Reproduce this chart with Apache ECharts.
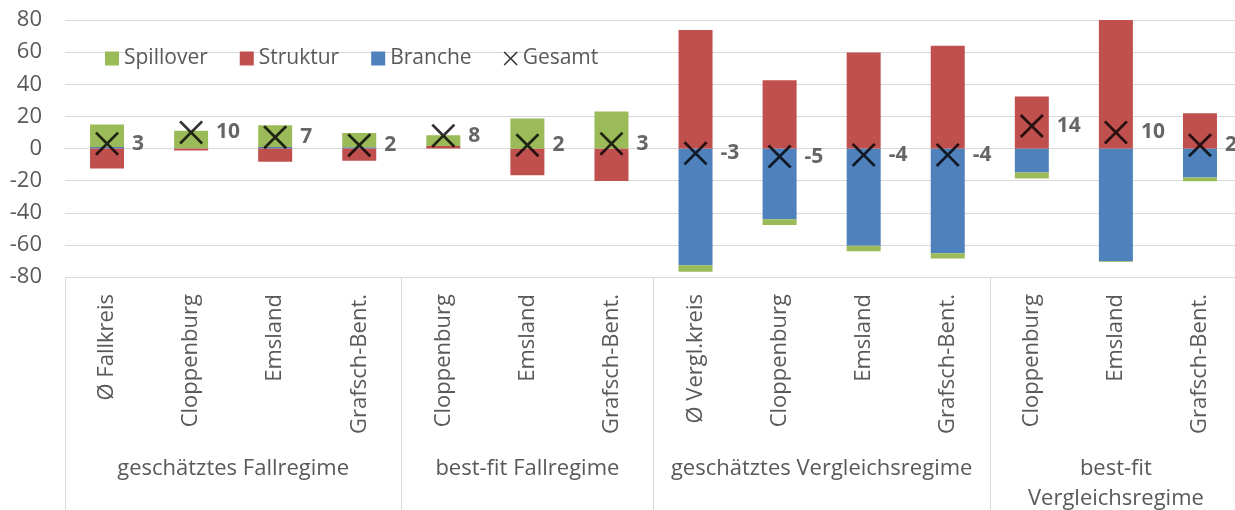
<!DOCTYPE html>
<html>
<head>
<meta charset="utf-8">
<script src="https://cdn.jsdelivr.net/npm/echarts@6/dist/echarts.min.js"></script>
<style>
html,body{margin:0;padding:0;background:#fff;}
#c{width:1235px;height:510px;}
</style>
</head>
<body>
<div id="c"></div>
<script>
const categories = ['Ø Fallkreis','Cloppenburg','Emsland','Grafsch-Bent.','Cloppenburg','Emsland','Grafsch-Bent.','Ø Vergl.kreis','Cloppenburg','Emsland','Grafsch-Bent.','Cloppenburg','Emsland','Grafsch-Bent.'];
const groups = ['geschätztes Fallregime','best-fit Fallregime','geschätztes Vergleichsregime','best-fit\nVergleichsregime'];
const groupSizes = [4, 3, 4, 3];
const branche   = [1, 0.2, 1, 0.8, 0, 0, 0, -72.7, -44, -60.6, -65.2, -15, -70.2, -18];
const struktur  = [-12.5, -1.3, -8.3, -7.7, 1.5, -16.6, -20.2, 73.8, 42.5, 59.8, 64, 32.3, 80.5, 22];
const spillover = [14, 10.8, 13.5, 8.9, 6.8, 18.7, 23, -4.1, -3.7, -3.4, -3.3, -3.6, -0.4, -2.4];
const gesamt    = [3, 10, 7, 2, 8, 2, 3, -3, -5, -4, -4, 14, 10, 2];
const yTicks = [-80, -60, -40, -20, 0, 20, 40, 60, 80];

// group boundaries and centers (in category units)
const bounds = [0];
groupSizes.forEach(s => bounds.push(bounds[bounds.length - 1] + s));
const centers = groupSizes.map((s, i) => bounds[i] + s / 2);

const FONT = 'Open Sans';
const X_PATH = 'path://M0,8L8,0L50,42L92,0L100,8L58,50L100,92L92,100L50,58L8,100L0,92L42,50Z';

const chart = echarts.init(document.getElementById('c'), null, {renderer: 'canvas'});
chart.setOption({
  animation: false,
  textStyle: {fontFamily: FONT},
  grid: {left: 65, top: 20, width: 1177, height: 257, containLabel: false, outerBoundsMode: 'none'},
  legend: {
    left: 100, top: 43,
    itemWidth: 14, itemHeight: 14, itemGap: 32,
    textStyle: {fontFamily: FONT, fontSize: 21, color: '#595959'},
    data: [
      {name: 'Spillover', icon: 'rect'},
      {name: 'Struktur', icon: 'rect'},
      {name: 'Branche', icon: 'rect'},
      {name: 'Gesamt', icon: X_PATH, itemStyle: {color: '#000'}}
    ]
  },
  xAxis: [
    {
      type: 'category',
      data: categories,
      position: 'bottom',
      axisLine: {show: true, lineStyle: {color: '#d9d9d9', width: 1}},
      axisTick: {show: false},
      axisLabel: {rotate: 90, margin: 17, fontSize: 22, color: '#595959', fontFamily: FONT, interval: 0},
      splitLine: {show: false}
    },
    {
      type: 'value',
      min: 0, max: categories.length,
      position: 'bottom',
      axisLine: {show: false},
      axisTick: {show: true, inside: false, length: 240, customValues: bounds, lineStyle: {color: '#d9d9d9', width: 1}},
      axisLabel: {
        show: true, margin: 177, fontSize: 22, color: '#595959', fontFamily: FONT,
        lineHeight: 30, verticalAlign: 'top',
        customValues: centers,
        formatter: v => { const i = centers.indexOf(v); return i >= 0 ? groups[i] : ''; }
      },
      splitLine: {show: false}
    }
  ],
  yAxis: {
    type: 'value',
    min: -80, max: 80, interval: 20,
    axisLine: {show: false},
    axisTick: {show: false},
    axisLabel: {margin: 23, fontSize: 22, color: '#595959', fontFamily: FONT,
      formatter: v => yTicks.includes(v) ? String(v) : ''},
    splitLine: {show: true, lineStyle: {color: '#d9d9d9', width: 1}}
  },
  series: [
    {name: 'Branche', type: 'bar', stack: 'total', barWidth: 34, data: branche,
      itemStyle: {color: '#4f81bd'}, xAxisIndex: 0},
    {name: 'Struktur', type: 'bar', stack: 'total', barWidth: 34, data: struktur,
      itemStyle: {color: '#c0504d'}, xAxisIndex: 0},
    {name: 'Spillover', type: 'bar', stack: 'total', barWidth: 34, data: spillover,
      itemStyle: {color: '#9bbb59'}, xAxisIndex: 0},
    {name: 'Gesamt', type: 'scatter', data: gesamt, xAxisIndex: 0, z: 10,
      symbol: X_PATH, symbolSize: 24,
      itemStyle: {color: '#000'},
      label: {show: true, position: 'right', distance: 13, fontSize: 21, fontWeight: 'bold',
        color: '#404040', fontFamily: FONT}
    }
  ]
});
</script>
</body>
</html>
